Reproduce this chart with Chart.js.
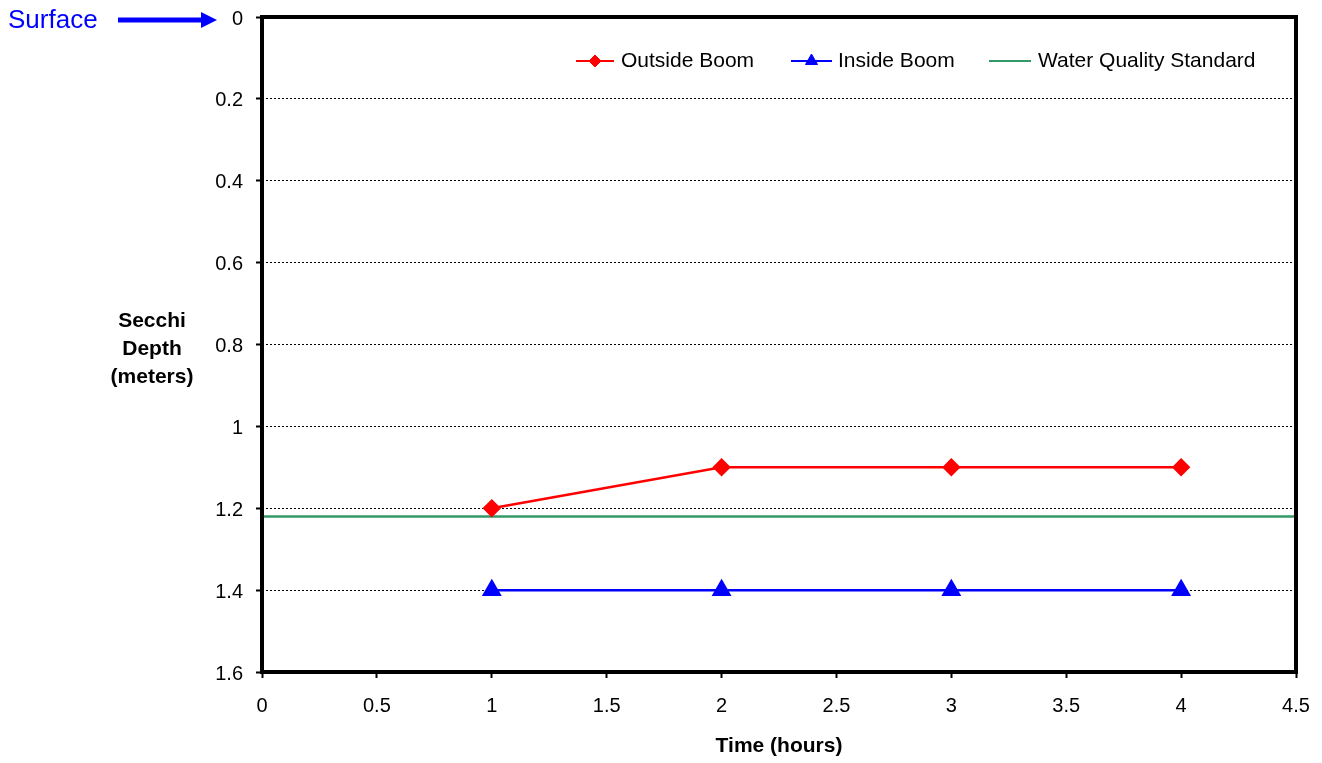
<!DOCTYPE html>
<html>
<head>
<meta charset="utf-8">
<script src="https://cdn.jsdelivr.net/npm/chart.js@4/dist/chart.umd.min.js"></script>
<style>
  html, body { margin: 0; padding: 0; background: #fff; }
  #wrap { width: 1322px; height: 763px; position: relative; }
</style>
</head>
<body>
<div id="wrap"><canvas id="secchiChart"></canvas></div>
<script>
// data
const hours = [1, 2, 3, 4];
const outsideBoom = [1.2, 1.1, 1.1, 1.1];
const insideBoom = [1.4, 1.4, 1.4, 1.4];
const standardX = [0, 4.5];
const standardDepth = [1.22, 1.22];

const yTitleLines = ['Secchi', 'Depth', '(meters)'];
const FONT = "'Liberation Sans', Arial, sans-serif";

const toPoints = (xs, ys) => xs.map((x, i) => ({ x: x, y: ys[i] }));

// frame, y title, surface arrow and legend drawn by hand
const extrasPlugin = {
  id: 'extras',
  afterDraw(chart) {
    const ctx = chart.ctx;
    const area = chart.chartArea;
    ctx.save();

    // thick frame round the plot
    ctx.strokeStyle = '#000';
    ctx.lineWidth = 4;
    ctx.strokeRect(area.left, area.top, area.right - area.left, area.bottom - area.top);

    // y axis title, horizontal, three lines
    ctx.fillStyle = '#000';
    ctx.font = 'bold 21px ' + FONT;
    ctx.textAlign = 'center';
    ctx.textBaseline = 'middle';
    yTitleLines.forEach((line, i) => ctx.fillText(line, 152, 321 + i * 28));

    // "Surface" with arrow pointing at 0
    ctx.fillStyle = '#0000FF';
    ctx.font = '26px ' + FONT;
    ctx.textAlign = 'left';
    ctx.fillText('Surface', 8, 21);
    ctx.strokeStyle = '#0000FF';
    ctx.lineWidth = 5;
    ctx.beginPath();
    ctx.moveTo(118, 20);
    ctx.lineTo(203, 20);
    ctx.stroke();
    ctx.beginPath();
    ctx.moveTo(201, 12);
    ctx.lineTo(217, 20);
    ctx.lineTo(201, 28);
    ctx.closePath();
    ctx.fill();

    // legend
    const legendY = 61;
    const items = [
      { ds: 0, x0: 576, x1: 614, text: 621, r: 6 },
      { ds: 1, x0: 791, x1: 832, text: 838, r: 7 },
      { ds: 2, x0: 989, x1: 1031, text: 1038, r: 0 }
    ];
    items.forEach(it => {
      const ds = chart.data.datasets[it.ds];
      ctx.strokeStyle = ds.borderColor;
      ctx.lineWidth = 2;
      ctx.beginPath();
      ctx.moveTo(it.x0, legendY);
      ctx.lineTo(it.x1, legendY);
      ctx.stroke();
      if (it.r > 0) {
        ctx.fillStyle = ds.pointBackgroundColor;
        ctx.strokeStyle = ds.pointBorderColor;
        ctx.lineWidth = 1;
        Chart.helpers.drawPoint(ctx, { pointStyle: ds.pointStyle, radius: it.r, rotation: 0, borderWidth: 1 },
          (it.x0 + it.x1) / 2, legendY);
      }
      ctx.fillStyle = '#000';
      ctx.font = '21px ' + FONT;
      ctx.textAlign = 'left';
      ctx.textBaseline = 'middle';
      ctx.fillText(ds.label, it.text, legendY);
    });

    ctx.restore();
  }
};

const isEdge = v => Math.abs(v) < 1e-6 || Math.abs(v - 1.6) < 1e-6;

new Chart(document.getElementById('secchiChart'), {
  type: 'line',
  data: {
    datasets: [
      {
        label: 'Outside Boom',
        data: toPoints(hours, outsideBoom),
        borderColor: '#FF0000',
        backgroundColor: '#FF0000',
        pointBackgroundColor: '#FF0000',
        pointBorderColor: '#FF0000',
        pointStyle: 'rectRot',
        pointRadius: 7.5,
        borderWidth: 2.5,
        tension: 0
      },
      {
        label: 'Inside Boom',
        data: toPoints(hours, insideBoom),
        borderColor: '#0000FF',
        backgroundColor: '#0000FF',
        pointBackgroundColor: '#0000FF',
        pointBorderColor: '#0000FF',
        pointStyle: 'triangle',
        pointRadius: 9,
        borderWidth: 2.5,
        tension: 0
      },
      {
        label: 'Water Quality Standard',
        data: toPoints(standardX, standardDepth),
        borderColor: '#339966',
        backgroundColor: '#339966',
        pointBackgroundColor: '#339966',
        pointBorderColor: '#339966',
        pointRadius: 0,
        borderWidth: 2.5
      }
    ]
  },
  options: {
    responsive: true,
    maintainAspectRatio: false,
    animation: false,
    layout: { padding: { left: 0, right: 26, top: 17, bottom: 0 } },
    plugins: {
      legend: { display: false },
      tooltip: { enabled: false }
    },
    scales: {
      x: {
        type: 'linear',
        min: 0,
        max: 4.5,
        afterFit: s => { s.height = 91; s.paddingLeft = 0; s.paddingRight = 0; },
        ticks: {
          stepSize: 0.5,
          color: '#000',
          padding: 16,
          font: { family: FONT, size: 20 },
          maxRotation: 0,
          callback: v => String(Math.round(v * 10) / 10)
        },
        grid: {
          display: true,
          drawOnChartArea: false,
          tickColor: '#000',
          tickLength: 6,
          tickWidth: 2
        },
        border: { display: false },
        title: {
          display: true,
          text: 'Time (hours)',
          color: '#000',
          font: { family: FONT, size: 21, weight: 'bold' },
          padding: { top: 4, bottom: 4 }
        }
      },
      y: {
        type: 'linear',
        reverse: true,
        min: 0,
        max: 1.6,
        afterFit: s => { s.width = 262; s.paddingTop = 0; s.paddingBottom = 0; },
        ticks: {
          stepSize: 0.2,
          color: '#000',
          padding: 13,
          labelOffset: 2,
          font: { family: FONT, size: 20 },
          callback: v => String(Math.round(v * 10) / 10)
        },
        grid: {
          color: ctx => (ctx.tick && isEdge(ctx.tick.value)) ? 'rgba(0,0,0,0)' : '#000',
          lineWidth: 1,
          tickColor: '#000',
          tickLength: 6,
          tickWidth: 2,
          tickBorderDash: []
        },
        border: { display: false, dash: [2, 2] }
      }
    }
  },
  plugins: [extrasPlugin]
});
</script>
</body>
</html>
